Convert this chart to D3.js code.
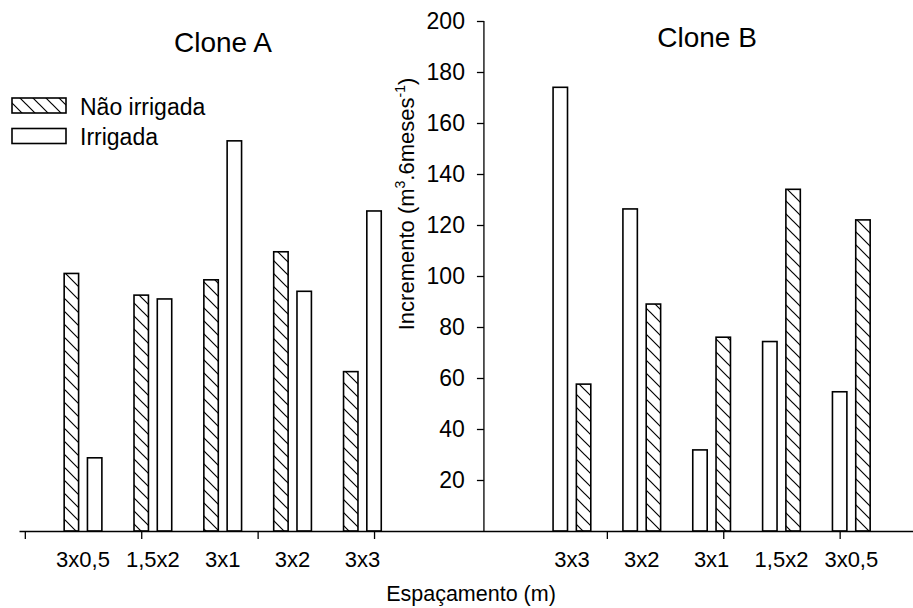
<!DOCTYPE html>
<html>
<head>
<meta charset="utf-8">
<script src="https://cdn.jsdelivr.net/npm/d3@7"></script>
<style>
  html, body { margin: 0; padding: 0; background: #fff; }
  svg { display: block; font-family: "Liberation Sans", Arial, sans-serif; }
</style>
</head>
<body>
<svg id="chart" width="913" height="608"></svg>
<script>
// ---- data ----
const seriesNames = ["Não irrigada", "Irrigada"];
const cloneACategories = ["3x0,5", "1,5x2", "3x1", "3x2", "3x3"];
const cloneANaoIrrigada = [101, 92.5, 98.5, 109.5, 62.5];
const cloneAIrrigada = [28.7, 91, 153, 94, 125.5];
const cloneBCategories = ["3x3", "3x2", "3x1", "1,5x2", "3x0,5"];
const cloneBIrrigada = [174, 126.3, 31.8, 74.3, 54.6];
const cloneBNaoIrrigada = [57.6, 89, 76, 134, 122];
const yTicks = [20, 40, 60, 80, 100, 120, 140, 160, 180, 200];
const xTicks = [0, 5, 10, 15, 25, 30, 35];
const panelTitles = ["Clone A", "Clone B"];
const xTitle = "Espaçamento (m)";

// ---- layout ----
const svg = d3.select("#chart");
const x = d3.scaleLinear().domain([-0.25, 38.15]).range([19, 913]);
const y = d3.scaleLinear().domain([0, 200]).range([531, 21]);
const font = "Liberation Sans, Arial, sans-serif";

// hatch pattern
const defs = svg.append("defs");
const pat = defs.append("pattern")
  .attr("id", "hatch").attr("patternUnits", "userSpaceOnUse")
  .attr("width", 13).attr("height", 13);
pat.append("path")
  .attr("d", "M0,0L13,13M-2,11L2,15M11,-2L15,2")
  .attr("stroke", "#000").attr("stroke-width", 1.2).attr("fill", "none");

const fills = { "Não irrigada": "url(#hatch)", "Irrigada": "#fff" };

// group definitions: start position & step in x-units
const groups = [
  { cats: cloneACategories, start: 2.5, series: [["Não irrigada", cloneANaoIrrigada], ["Irrigada", cloneAIrrigada]] },
  { cats: cloneBCategories, start: 23.5, series: [["Irrigada", cloneBIrrigada], ["Não irrigada", cloneBNaoIrrigada]] }
];
const step = 3, barW = 0.62, off = 0.5;

groups.forEach(g => {
  g.series.forEach(([name, vals], si) => {
    svg.append("g").selectAll("rect").data(vals).join("rect")
      .attr("x", (d, i) => x(g.start + step * i + (si === 0 ? -off : off) - barW / 2))
      .attr("width", x(barW) - x(0))
      .attr("y", d => y(d))
      .attr("height", d => y(0) - y(d))
      .attr("fill", fills[name])
      .attr("stroke", "#000").attr("stroke-width", 1.6);
  });
  svg.append("g").selectAll("text").data(g.cats).join("text")
    .attr("x", (d, i) => x(g.start + step * i))
    .attr("y", 567)
    .attr("text-anchor", "middle")
    .attr("font-size", 22).attr("fill", "#000")
    .text(d => d);
});

// x axis
const xAxis = svg.append("g").attr("transform", `translate(0,${y(0)})`)
  .call(d3.axisBottom(x).tickValues(xTicks).tickFormat("").tickSize(8).tickSizeOuter(0));
xAxis.select(".domain").attr("stroke", "#000").attr("stroke-width", 1.6);
xAxis.selectAll(".tick line").attr("stroke", "#000").attr("stroke-width", 1.3);

// y axis
const yAxisPos = 19.72;
const yAxis = svg.append("g").attr("transform", `translate(${x(yAxisPos)},0)`)
  .call(d3.axisLeft(y).tickValues(yTicks).tickSize(7).tickPadding(12).tickSizeOuter(0));
yAxis.select(".domain").attr("stroke", "#000").attr("stroke-width", 1.3);
yAxis.selectAll(".tick line").attr("stroke", "#000").attr("stroke-width", 1.3);
yAxis.selectAll(".tick text").attr("font-size", 23).attr("font-family", font).attr("fill", "#000");
yAxis.select(".domain").attr("d", `M0,${y(0)}V${y(200)}`);

// y title
const yt = svg.append("text")
  .attr("transform", `translate(414,204) rotate(-90)`)
  .attr("text-anchor", "middle").attr("font-size", 22).attr("fill", "#000");
yt.append("tspan").text("Incremento (m");
yt.append("tspan").attr("dy", -9).attr("font-size", 14).text("3");
yt.append("tspan").attr("dy", 9).text(".6meses");
yt.append("tspan").attr("dy", -9).attr("font-size", 14).text("-1");
yt.append("tspan").attr("dy", 9).text(")");

// x title
svg.append("text").attr("x", 471).attr("y", 601).attr("text-anchor", "middle")
  .attr("font-size", 21.5).attr("fill", "#000").text(xTitle);

// panel titles
svg.append("text").attr("x", 223).attr("y", 52).attr("text-anchor", "middle")
  .attr("font-size", 28).attr("fill", "#000").text(panelTitles[0]);
svg.append("text").attr("x", 707).attr("y", 47).attr("text-anchor", "middle")
  .attr("font-size", 28).attr("fill", "#000").text(panelTitles[1]);

// legend
const leg = svg.append("g");
seriesNames.forEach((name, i) => {
  leg.append("rect").attr("x", 12).attr("y", 98 + i * 30.5).attr("width", 54).attr("height", 15)
    .attr("fill", fills[name]).attr("stroke", "#000").attr("stroke-width", 1.6);
  leg.append("text").attr("x", 80).attr("y", 115 + i * 30)
    .attr("font-size", 23).attr("fill", "#000").text(name);
});
</script>
</body>
</html>
